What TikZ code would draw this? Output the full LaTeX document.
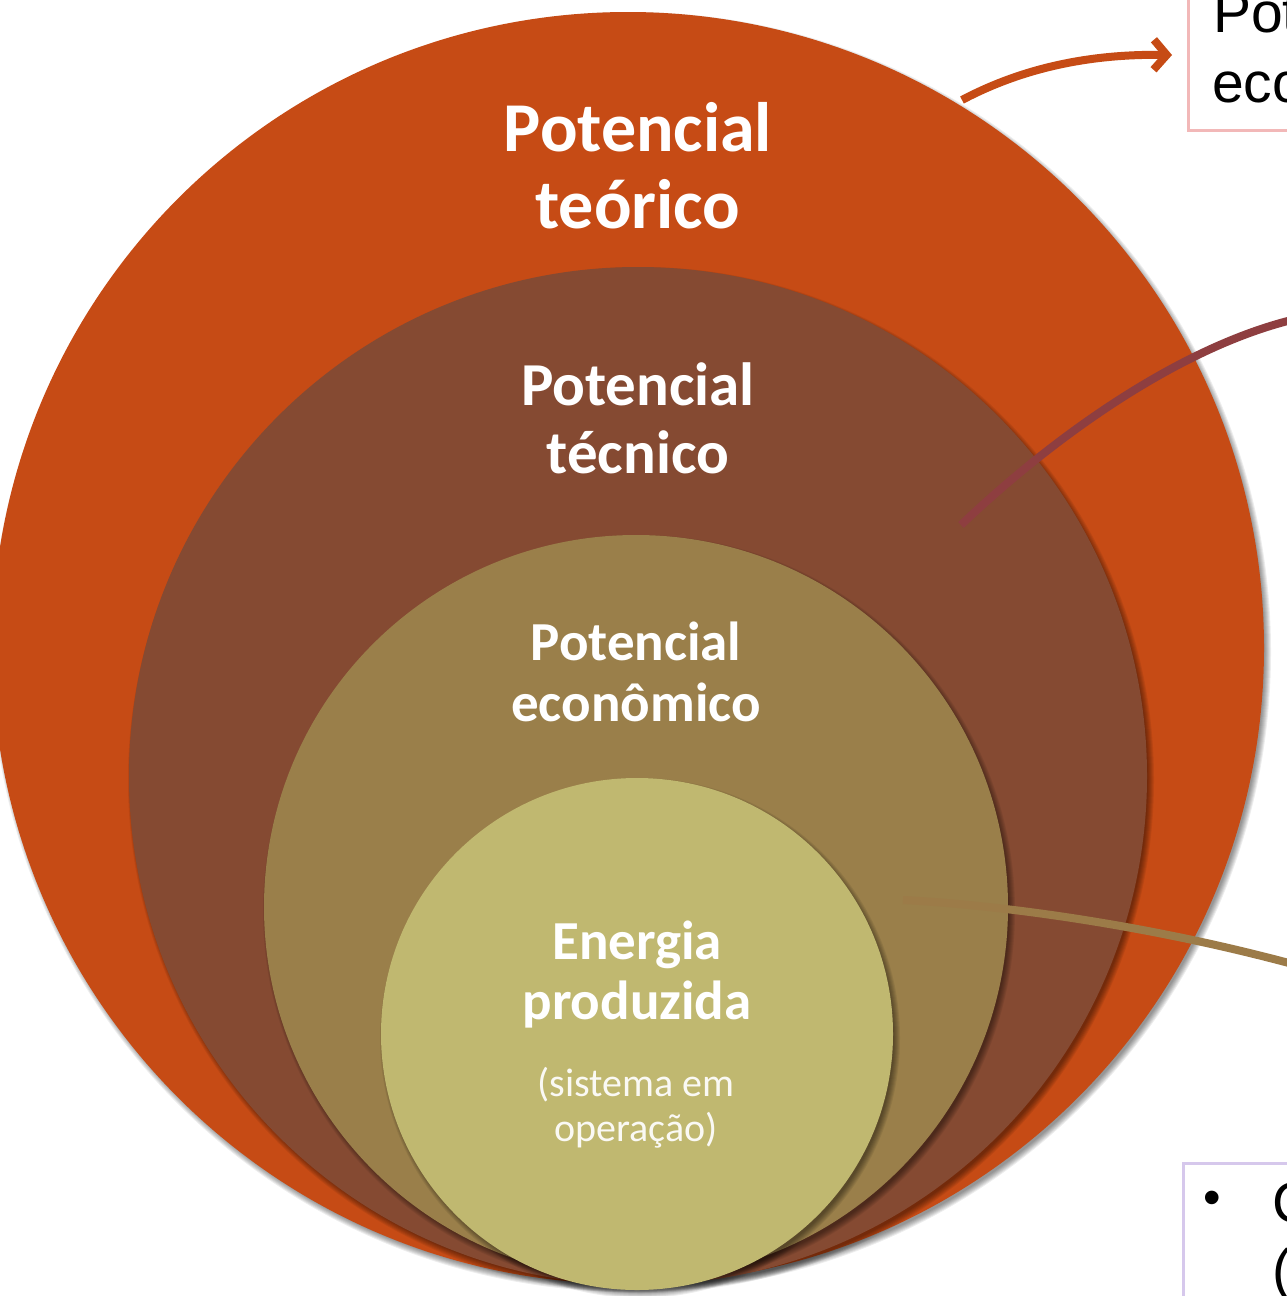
\documentclass[tikz,border=0pt]{standalone}
\usepackage{fontspec}
\setmainfont{Carlito}
\newfontfamily\arialf{Liberation Sans}
\usetikzlibrary{arrows.meta}
\definecolor{cOrange}{HTML}{C64B15}
\definecolor{cBrown}{HTML}{854A32}
\definecolor{cOlive}{HTML}{9A7F4A}
\definecolor{cLight}{HTML}{C0B870}
\definecolor{cMaroon}{HTML}{8E3E40}
\definecolor{cLineOlive}{HTML}{9C7B48}
\definecolor{cPink}{HTML}{F2B8B8}
\definecolor{cLav}{HTML}{D6C8EC}
\tikzset{
  ring/.style={circle, inner sep=0pt, draw=none},
  ctitle/.style={text=white, align=center, inner sep=0pt},
  conn/.style={line width=8pt},
  infobox/.style={draw, line width=3pt, minimum width=300pt, minimum height=200pt, inner sep=0pt},
  boxtext/.style={font=\arialf\fontsize{57}{70}\selectfont, anchor=base west, inner sep=0pt, text=black},
}
\newcommand{\softshadow}[3]{% center x, center y, radius
  \foreach \k in {1,...,7}{
    \fill[black, opacity=0.07] (#1+3,#2+4) circle[radius=#3+\k-3];
  }}
\begin{document}
\begin{tikzpicture}[x=1pt,y=-1pt]
\useasboundingbox (0,0) rectangle (1287,1296);
\clip (0,0) rectangle (1287,1296);
\fill[white] (0,0) rectangle (1287,1296);

% circles with soft shadows
\softshadow{628}{648}{636}
\node[ring, fill=cOrange, minimum size=1272pt] (c1) at (628,648) {};
\softshadow{638}{776}{509}
\node[ring, fill=cBrown,  minimum size=1018pt] (c2) at (638,776) {};
\softshadow{636}{907}{372}
\node[ring, fill=cOlive,  minimum size=744pt]  (c3) at (636,907) {};
\softshadow{637}{1034}{256}
\node[ring, fill=cLight,  minimum size=512pt]  (c4) at (637,1034) {};

% circle labels
\node[ctitle, font={\bfseries\fontsize{70}{77}\selectfont}] (t1) at (638,166) {Potencial\\teórico};
\node[ctitle, font={\bfseries\fontsize{61}{68}\selectfont}] (t2) at (638,418) {Potencial\\técnico};
\node[ctitle, font={\bfseries\fontsize{55}{61}\selectfont}] (t3) at (636,672) {Potencial\\econômico};
\node[ctitle, font={\bfseries\fontsize{55}{60}\selectfont}] (t4) at (637,975) {Energia\\produzida};
\node[ctitle, text=white!92!cLight, font={\fontsize{40}{45}\selectfont}] (t5) at (636,1108) {(sistema em\\operação)};

% side boxes
\node[infobox, draw=cPink, anchor=south west] (box1) at (1187,132) {};
\node[boxtext] (b1a) at (1213,32) {Potencial};
\node[boxtext] (b1b) at (1212,102) {econômico};

\node[infobox, draw=cLav, anchor=north west] (box2) at (1182,1162) {};
\node[font=\arialf\fontsize{50}{60}\selectfont, inner sep=0pt] (bul) at (1212,1203) {•};
\node[boxtext] (b2a) at (1272,1222) {C};
\node[boxtext] (b2b) at (1272,1289) {(};

% connectors
\coordinate (a1s) at (962,100);
\draw[conn, cOrange, -{Straight Barb[length=13pt,width=30pt]}]
  (a1s) .. controls (1030,64) and (1100,54) .. ([shift={(-15,-77)}]box1.south west);

\coordinate (a2s) at (961,525);
\coordinate (a2e) at (1300,318);
\draw[conn, cMaroon] (a2s) .. controls (1050,440) and (1180,345) .. (a2e);

\coordinate (a3s) at (903,900);
\coordinate (a3e) at (1300,966);
\draw[conn, cLineOlive] (a3s) .. controls (1000,905) and (1150,925) .. (a3e);
\end{tikzpicture}
\end{document}
